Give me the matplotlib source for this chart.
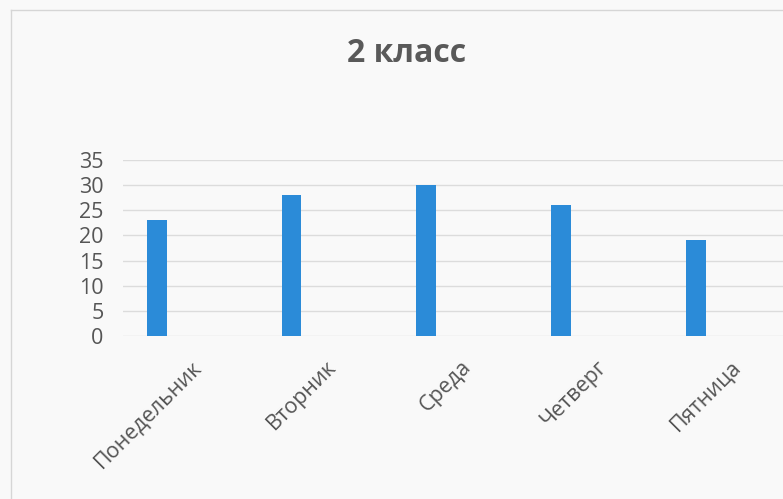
import matplotlib
matplotlib.use("Agg")
import matplotlib.pyplot as plt
from matplotlib.transforms import ScaledTranslation
from matplotlib.lines import Line2D

categories = ["Понедельник", "Вторник", "Среда", "Четверг", "Пятница"]
values = [23, 28, 30, 26, 19]
yticks = [0, 5, 10, 15, 20, 25, 30, 35]
title = "2 класс"

plt.rcParams['font.family'] = ['Open Sans', 'DejaVu Sans']

W, H = 783, 499
fig = plt.figure(figsize=(W / 100, H / 100), dpi=100)
bg = "#F9F9F9"
fig.patch.set_facecolor(bg)

ax = fig.add_axes([123 / W, 1 - 336 / H, (W - 123) / W, 176 / H])
ax.set_facecolor(bg)

x = list(range(len(categories)))
ax.bar(x, values, width=0.148, color="#2B8BD8", zorder=3)

ax.set_xlim(-0.25, 4.646)
ax.set_ylim(0, 35)
ax.set_yticks(yticks)
ax.set_yticklabels([str(v) for v in yticks], fontsize=15.5, color="#555555")
ax.yaxis.grid(True, color="#DCDCDC", linewidth=1.0, zorder=0)
ax.tick_params(axis='y', length=0, pad=14)
ax.tick_params(axis='x', length=0, pad=0)
for s in ax.spines.values():
    s.set_visible(False)

ax.set_xticks(x)
ax.set_xticklabels(categories, rotation=45, ha='right', va='center',
                   rotation_mode='anchor', fontsize=15.5, color="#555555")
off = ScaledTranslation(0.42, -0.28, fig.dpi_scale_trans)
for lbl in ax.get_xticklabels():
    lbl.set_transform(lbl.get_transform() + off)

fig.text(406.5 / W, 1 - 62 / H, title, ha='center', va='baseline',
         fontsize=23, fontweight='bold', color="#595959")

# faint chart border
fig.add_artist(Line2D([11 / W, 1], [1 - 10 / H, 1 - 10 / H], color="#D6D6D6", lw=1))
fig.add_artist(Line2D([11 / W, 11 / W], [0, 1 - 10 / H], color="#D6D6D6", lw=1))

fig.savefig("out.png", dpi=100, facecolor=bg)
